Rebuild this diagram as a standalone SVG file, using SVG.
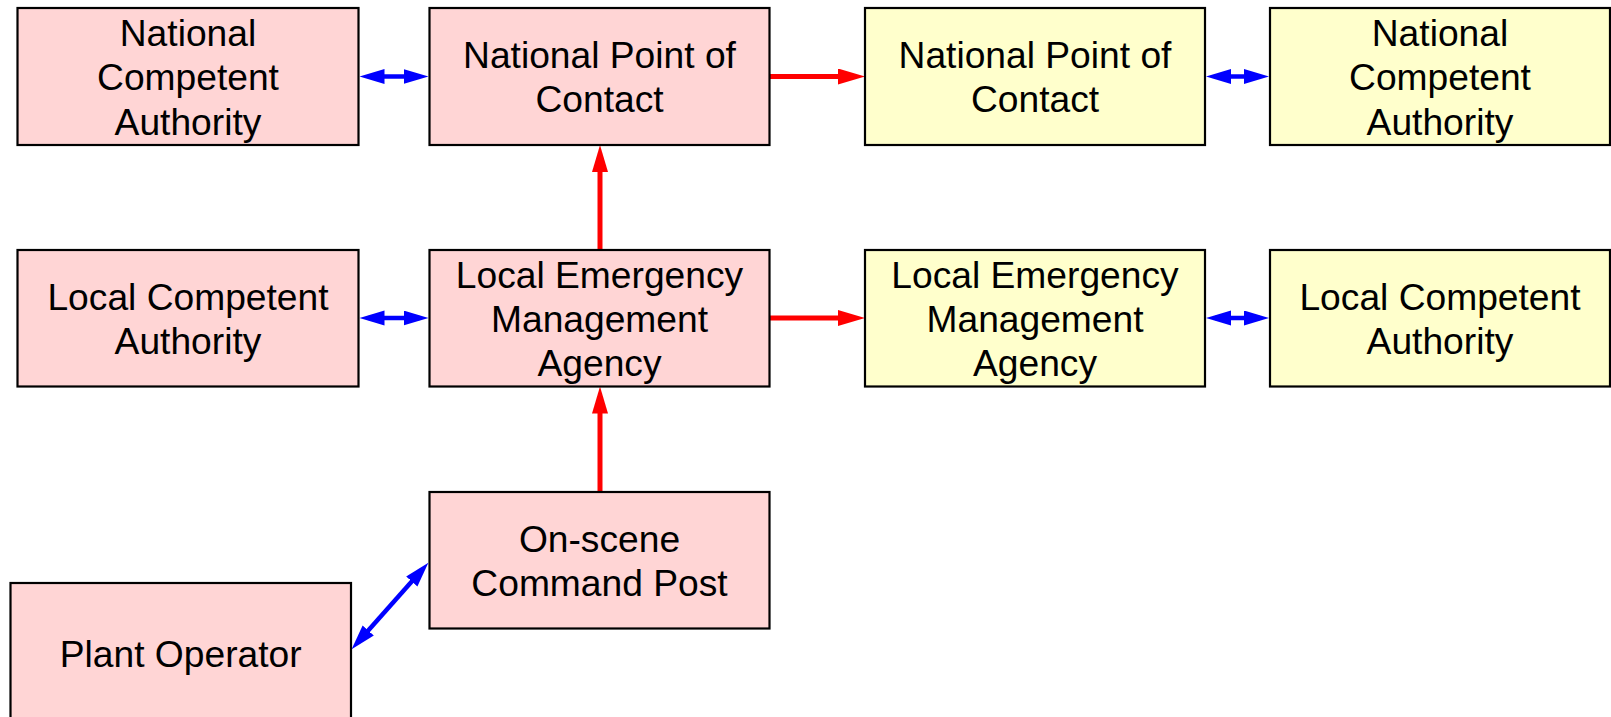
<svg xmlns="http://www.w3.org/2000/svg" width="1611" height="717" viewBox="0 0 1611 717">
<style>
.box{stroke:#000;stroke-width:2.2}
.pink{fill:#FFD5D5}
.yel{fill:#FFFFCC}
text{font-family:"Liberation Sans",Arial,sans-serif;font-size:37.2px;fill:#000;text-anchor:middle}
.blue{stroke:#0000FF;stroke-width:4.5;fill:none}
.red{stroke:#FF0000;stroke-width:5;fill:none}
</style>
<defs>
<marker id="bh" markerUnits="userSpaceOnUse" markerWidth="26" markerHeight="16" refX="16" refY="7.5" orient="auto-start-reverse">
<path d="M0,0 L25,7.5 L0,15 z" fill="#0000FF"/>
</marker>
<marker id="rh" markerUnits="userSpaceOnUse" markerWidth="28" markerHeight="18" refX="17" refY="8" orient="auto">
<path d="M0,0 L27,8 L0,16 z" fill="#FF0000"/>
</marker>
</defs>
<g id="connectors">
<line class="blue" x1="368.5" y1="76.5" x2="419.5" y2="76.5" marker-start="url(#bh)" marker-end="url(#bh)"/>
<line class="red" x1="769.5" y1="76.5" x2="855" y2="76.5" marker-end="url(#rh)"/>
<line class="blue" x1="1215" y1="76.5" x2="1260" y2="76.5" marker-start="url(#bh)" marker-end="url(#bh)"/>
<line class="red" x1="600" y1="250" x2="600" y2="155" marker-end="url(#rh)"/>
<line class="blue" x1="368.5" y1="318" x2="419.5" y2="318" marker-start="url(#bh)" marker-end="url(#bh)"/>
<line class="red" x1="769.5" y1="318" x2="855" y2="318" marker-end="url(#rh)"/>
<line class="blue" x1="1215" y1="318" x2="1260" y2="318" marker-start="url(#bh)" marker-end="url(#bh)"/>
<line class="red" x1="600" y1="492" x2="600" y2="396.5" marker-end="url(#rh)"/>
<line class="blue" x1="357.6" y1="642.5" x2="422.4" y2="569.5" marker-start="url(#bh)" marker-end="url(#bh)"/>
</g>
<g id="nca-left">
<rect class="box pink" x="17.5" y="8" width="341" height="137"/>
<text x="188" y="45.5">National</text>
<text x="188" y="90">Competent</text>
<text x="188" y="134.5">Authority</text>
</g>
<g id="npc-left">
<rect class="box pink" x="429.5" y="8" width="340" height="137"/>
<text x="599.5" y="67.7">National Point of</text>
<text x="599.5" y="111.7">Contact</text>
</g>
<g id="npc-right">
<rect class="box yel" x="865" y="8" width="340" height="137"/>
<text x="1035" y="67.7">National Point of</text>
<text x="1035" y="111.7">Contact</text>
</g>
<g id="nca-right">
<rect class="box yel" x="1270" y="8" width="340" height="137"/>
<text x="1440" y="45.5">National</text>
<text x="1440" y="90">Competent</text>
<text x="1440" y="134.5">Authority</text>
</g>
<g id="lca-left">
<rect class="box pink" x="17.5" y="250" width="341" height="136.5"/>
<text x="188" y="310">Local Competent</text>
<text x="188" y="354">Authority</text>
</g>
<g id="lema-left">
<rect class="box pink" x="429.5" y="250" width="340" height="136.5"/>
<text x="599.5" y="288">Local Emergency</text>
<text x="599.5" y="332">Management</text>
<text x="599.5" y="376">Agency</text>
</g>
<g id="lema-right">
<rect class="box yel" x="865" y="250" width="340" height="136.5"/>
<text x="1035" y="288">Local Emergency</text>
<text x="1035" y="332">Management</text>
<text x="1035" y="376">Agency</text>
</g>
<g id="lca-right">
<rect class="box yel" x="1270" y="250" width="340" height="136.5"/>
<text x="1440" y="310">Local Competent</text>
<text x="1440" y="354">Authority</text>
</g>
<g id="onscene">
<rect class="box pink" x="429.5" y="492" width="340" height="136.5"/>
<text x="599.5" y="552">On-scene</text>
<text x="599.5" y="596">Command Post</text>
</g>
<g id="plant-operator">
<rect class="box pink" x="10.5" y="583" width="340.5" height="150"/>
<text x="180.7" y="667">Plant Operator</text>
</g>
</svg>
